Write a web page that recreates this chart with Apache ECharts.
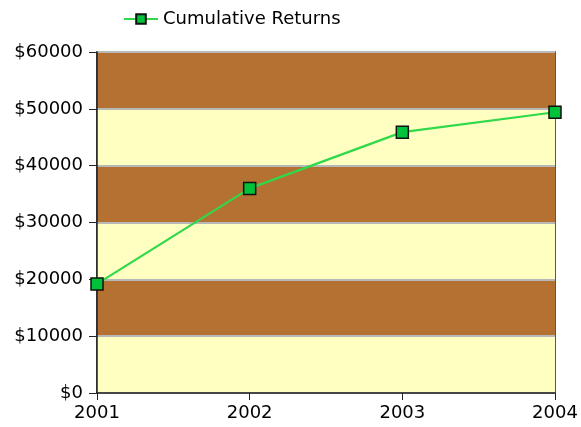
<!DOCTYPE html>
<html>
<head>
<meta charset="utf-8">
<script src="https://cdn.jsdelivr.net/npm/echarts@6/dist/echarts.min.js"></script>
<style>
	html,body{margin:0;padding:0;background:#fff;}
	#chart{width:581px;height:427px;}
</style>
</head>
<body>
<div id="chart"></div>
<script>
'use strict'
// data
let years = ['2001', '2002', '2003', '2004'],
	cumReturns = [19200, 36000, 45900, 49400],
	seriesName = 'Cumulative Returns';

let chart = echarts.init(document.getElementById('chart'));
let font = 'DejaVu Sans';
let option = {
	animation: false,
	legend: {
		left: 118,
		top: 5,
		itemWidth: 34,
		itemHeight: 12,
		itemGap: 8,
		data: [seriesName],
		textStyle: {
			color: '#000',
			fontFamily: font,
			fontSize: 18
		}
	},
	grid: {
		left: 97,
		right: 26,
		top: 52,
		bottom: 34,
		show: true,
		borderColor: '#222',
		borderWidth: 1.5,
		backgroundColor: 'transparent'
	},
	xAxis: {
		type: 'category',
		data: years,
		boundaryGap: false,
		axisLine: {lineStyle: {color: '#222', width: 1.5}},
		axisTick: {show: true, length: 7, lineStyle: {color: '#222'}},
		axisLabel: {
			color: '#000',
			fontFamily: font,
			fontSize: 18,
			margin: 11
		},
		splitLine: {show: false}
	},
	yAxis: {
		type: 'value',
		min: 0,
		max: 60000,
		interval: 10000,
		axisLine: {show: true, lineStyle: {color: '#222', width: 1.5}},
		axisTick: {show: true, length: 8, lineStyle: {color: '#222'}},
		axisLabel: {
			color: '#000',
			fontFamily: font,
			fontSize: 18,
			margin: 14,
			formatter: v => '$' + v
		},
		splitLine: {show: true, lineStyle: {color: '#b8b8b8', width: 2}},
		splitArea: {
			show: true,
			areaStyle: {color: ['#ffffc2', '#b57132']}
		}
	},
	series: [{
		name: seriesName,
		type: 'line',
		data: cumReturns,
		symbol: 'rect',
		symbolSize: 12,
		lineStyle: {color: '#2fd94a', width: 2.2},
		itemStyle: {color: '#00c23a', borderColor: '#111', borderWidth: 1.5},
		z: 5
	}]
};
chart.setOption(option);
</script>
</body>
</html>
